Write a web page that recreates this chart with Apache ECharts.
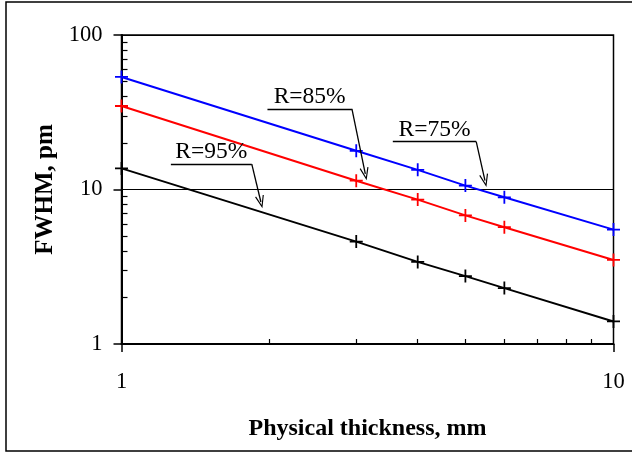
<!DOCTYPE html>
<html>
<head>
<meta charset="utf-8">
<script src="https://cdn.jsdelivr.net/npm/echarts@6/dist/echarts.min.js"></script>
<style>
  html, body { margin: 0; padding: 0; background: #fff; }
  #chart { width: 632px; height: 461px; }
</style>
</head>
<body>
<div id="chart"></div>
<script>
const thickness = [1, 3, 4, 5, 6, 10];
const fwhmR75 = [53.5, 17.8, 13.4, 10.6, 8.9, 5.5];
const fwhmR85 = [34.7, 11.4, 8.6, 6.8, 5.7, 3.5];
const fwhmR95 = [13.7, 4.6, 3.4, 2.75, 2.3, 1.4];

const xMinorTicks = [2, 3, 4, 5, 6, 7, 8, 9];
const yMinorTicks = [2, 3, 4, 5, 6, 7, 8, 9, 20, 30, 40, 50, 60, 70, 80, 90];

// annotation labels: [text, underline start, underline end, arrow end]
const notes = {
  r75: ["R=75%", [3.56, 20.4], [5.26, 20.4], [5.48, 11.4]],
  r85: ["R=85%", [1.98, 33.2], [2.94, 33.2], [3.13, 12.6]],
  r95: ["R=95%", [1.26, 14.6], [1.84, 14.6], [1.92, 8.3]],
};

const font = "Liberation Serif";
const plus = "path://M5.6,0H7.4V5.6H13V7.4H7.4V13H5.6V7.4H0V5.6H5.6Z";
const arrow = "path://M5,0L10,12L8.8,12.4L5,3.2L1.2,12.4L0,12Z";

function pairs(ys) {
  return thickness.map((x, i) => [x, ys[i]]);
}

function noteLines(n) {
  const [text, a, b, tip] = n;
  return [
    [
      { coord: a, symbol: "none", label: { show: true, formatter: text } },
      { coord: b, symbol: "none" },
    ],
    [
      { coord: b, symbol: "none", label: { show: false } },
      { coord: tip, symbol: arrow, symbolSize: [9, 13] },
    ],
  ];
}

function makeSeries(name, ys, color, note) {
  return {
    name,
    type: "line",
    data: pairs(ys),
    symbol: plus,
    symbolSize: 13,
    showAllSymbol: true,
    lineStyle: { color, width: 2 },
    itemStyle: { color },
    markLine: {
      silent: true,
      symbol: ["none", "none"],
      lineStyle: { color: "#000", width: 1.3, type: "solid" },
      label: {
        position: "insideMiddleTop",
        distance: 0,
        color: "#000",
        fontFamily: font,
        fontSize: 23.5,
      },
      data: noteLines(note),
    },
  };
}

const chart = echarts.init(document.getElementById("chart"));
chart.setOption({
  animation: false,
  backgroundColor: "#fff",
  graphic: [
    {
      type: "rect",
      shape: { x: 6, y: 2, width: 640, height: 449 },
      style: { fill: "none", stroke: "#000", lineWidth: 1.5 },
      silent: true,
    },
  ],
  grid: {
    left: 121.5,
    right: 18.5,
    top: 35,
    bottom: 117,
    show: true,
    borderColor: "#000",
    borderWidth: 1.5,
  },
  xAxis: [
    {
      type: "log",
      logBase: 10,
      min: 1,
      max: 10,
      position: "bottom",
      name: "Physical thickness, mm",
      nameLocation: "middle",
      nameGap: 73,
      nameTextStyle: { fontFamily: font, fontSize: 24, fontWeight: "bold", color: "#000" },
      axisLine: { lineStyle: { color: "#000", width: 2 } },
      axisTick: { length: 8, lineStyle: { color: "#000", width: 1.5 } },
      axisLabel: { margin: 27, fontFamily: font, fontSize: 22.5, color: "#000" },
      splitLine: { show: false },
    },
    {
      type: "log",
      logBase: 10,
      min: 1,
      max: 10,
      position: "bottom",
      axisLine: { show: false },
      axisTick: {
        inside: true,
        length: 5,
        customValues: xMinorTicks,
        lineStyle: { color: "#000", width: 1.2 },
      },
      axisLabel: { show: false },
      splitLine: { show: false },
    },
  ],
  yAxis: [
    {
      type: "log",
      logBase: 10,
      min: 1,
      max: 100,
      position: "left",
      name: "FWHM, pm",
      nameLocation: "middle",
      nameGap: 60,
      nameRotate: 90,
      nameTextStyle: { fontFamily: font, fontSize: 25, fontWeight: "bold", color: "#000" },
      axisLine: { lineStyle: { color: "#000", width: 2 } },
      axisTick: { length: 8, lineStyle: { color: "#000", width: 1.5 } },
      axisLabel: { margin: 19, fontFamily: font, fontSize: 22.5, color: "#000" },
      splitLine: { show: true, lineStyle: { color: "#000", width: 1 } },
    },
    {
      type: "log",
      logBase: 10,
      min: 1,
      max: 100,
      position: "left",
      axisLine: { show: false },
      axisTick: {
        inside: true,
        length: 6,
        customValues: yMinorTicks,
        lineStyle: { color: "#000", width: 1.2 },
      },
      axisLabel: { show: false },
      splitLine: { show: false },
    },
  ],
  series: [
    makeSeries("R=75%", fwhmR75, "#0000ff", notes.r75),
    makeSeries("R=85%", fwhmR85, "#ff0000", notes.r85),
    makeSeries("R=95%", fwhmR95, "#000000", notes.r95),
  ],
});
</script>
</body>
</html>
